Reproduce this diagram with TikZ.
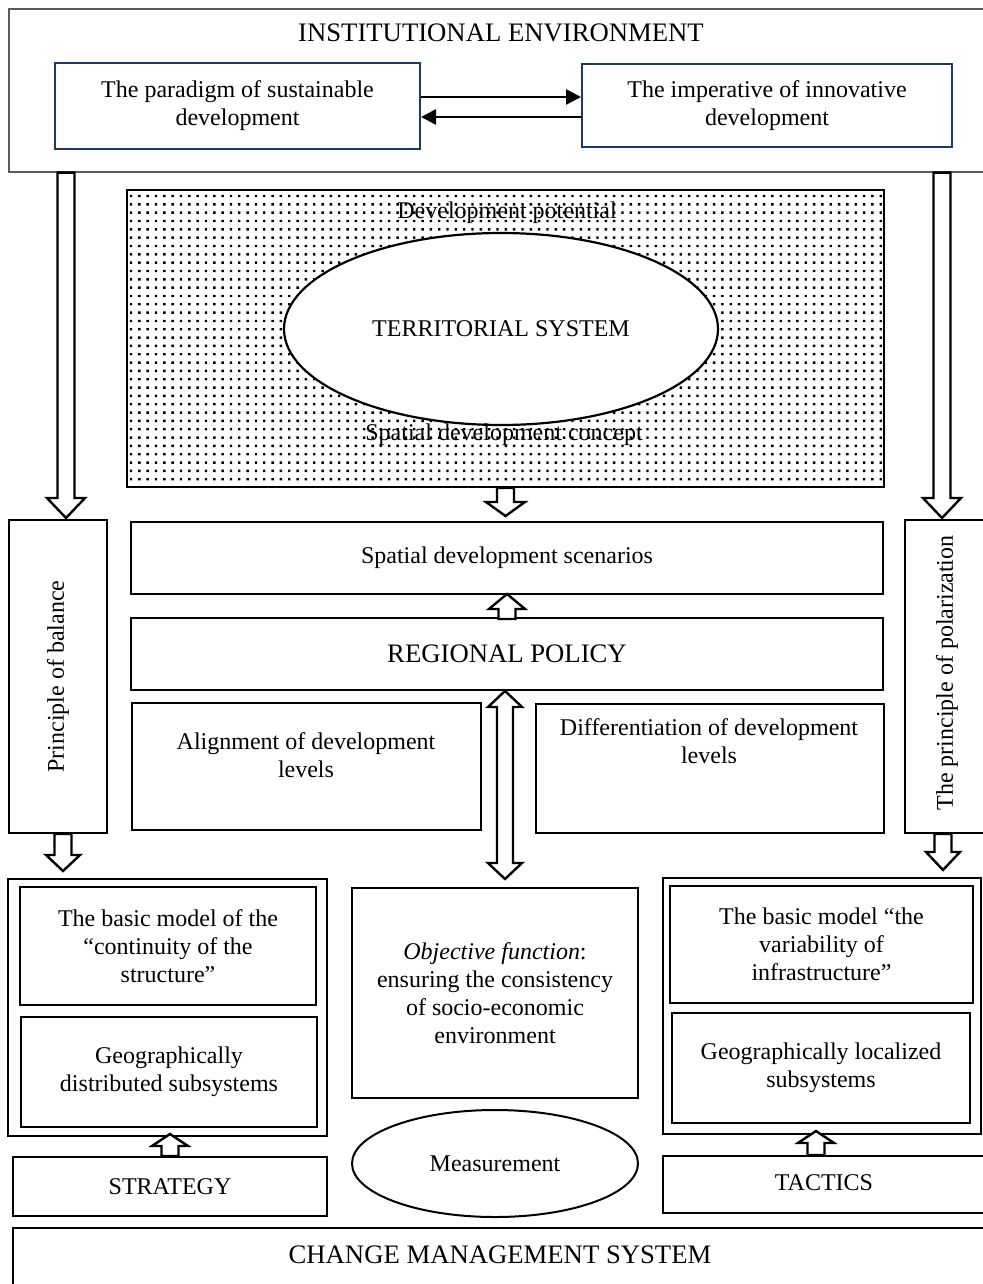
\documentclass[tikz,border=0pt]{standalone}
\usepackage{fontspec}
\setmainfont{Liberation Serif}
\usetikzlibrary{calc,shapes.geometric,arrows.meta}
\definecolor{navy}{RGB}{31,56,100}
\definecolor{framegray}{RGB}{90,90,90}
\tikzset{
  box/.style={draw, line width=2pt, rectangle, inner sep=0pt, align=center,
    font=\fontsize{24}{28}\selectfont},
  txt/.style={align=center, inner sep=0pt, font=\fontsize{24}{28}\selectfont},
  bigtxt/.style={align=center, inner sep=0pt, font=\fontsize{26.7}{31}\selectfont},
  oval/.style={draw, ellipse, line width=2.2pt, fill=white, inner sep=0pt,
    font=\fontsize{24}{28}\selectfont},
  blk/.style={draw, line width=2.4pt, fill=white, line join=miter},
  tarrow/.style={line width=2.6pt, -{Triangle[length=15pt,width=15pt]}}
}
% box node from corners: #1 name, #2 x1, #3 y1, #4 x2, #5 y2, #6 options, #7 text
\newcommand\bx[7]{%
  \node[box, minimum width={(#4-#2)*1pt}, minimum height={(#5-#3)*1pt}, #6]
    (#1) at ({(#2+#4)/2},{(#3+#5)/2}) {#7};}
% #1 start, #2 tip, #3 head half width, #4 head length
\newcommand\blockarrow[4]{%
  \draw[blk] let \p1=#1, \p2=#2, \n1={sign(\y2-\y1)} in
    (\x1-8.5pt,\y1) -- (\x1-8.5pt,{\y2-(\n1)*#4}) -- (\x1-#3,{\y2-(\n1)*#4}) --
    (\x1,\y2) -- (\x1+#3,{\y2-(\n1)*#4}) -- (\x1+8.5pt,{\y2-(\n1)*#4}) --
    (\x1+8.5pt,\y1) -- cycle;}
% #1 upper tip, #2 lower tip, #3 head half width, #4 head length
\newcommand\dblarrow[4]{%
  \draw[blk] let \p1=#1, \p2=#2 in
    (\x1,\y1) -- (\x1+#3,\y1-#4) -- (\x1+8pt,\y1-#4) -- (\x1+8pt,\y2+#4) --
    (\x1+#3,\y2+#4) -- (\x1,\y2) -- (\x1-#3,\y2+#4) -- (\x1-8pt,\y2+#4) --
    (\x1-8pt,\y1-#4) -- (\x1-#3,\y1-#4) -- cycle;}
\begin{document}
\begin{tikzpicture}[x=1pt,y=-1pt]
\useasboundingbox (0,0) rectangle (982,1284);

% ---------- institutional environment ----------
\bx{inst}{9}{9}{995}{172}{draw=framegray, line width=1.4pt}{}
\node[bigtxt] (instT) at (501,33) {INSTITUTIONAL ENVIRONMENT};
\bx{para}{55}{63}{420}{149}{draw=navy}{The paradigm of sustainable\\development}
\bx{imper}{582}{64}{952}{147}{draw=navy}{The imperative of innovative\\development}
\draw[tarrow] ([yshift=9pt]para.east) -- ([yshift=9pt]para.east -| imper.west);
\draw[tarrow] ([yshift=-11pt]para.east -| imper.west) -- ([yshift=-11pt]para.east);

% ---------- dotted territorial area ----------
\bx{dots}{127}{190}{884}{487}{}{}
\fill foreach \i in {0,...,90} {foreach \j in {0,...,34} {(129.8+\i*8.33,194.8+\j*8.33) rectangle ++(2.4,2.4)}};
\node[oval, minimum width=434pt, minimum height=192pt] (terr) at (501,329) {TERRITORIAL SYSTEM};
\node[txt] (potential) at (507,213) {Development potential};
\node[txt] (concept) at (504,435) {Spatial development concept};

% ---------- principles ----------
\bx{bal}{9}{520}{107}{833}{}{}
\node[txt, rotate=90] (balT) at (bal.center) {Principle of balance};
\bx{pol}{905}{520}{995}{833}{}{}
\node[txt, rotate=90] (polT) at (947,673) {The principle of polarization};

% ---------- central column ----------
\bx{scen}{131}{522}{883}{594}{}{Spatial development scenarios}
\bx{reg}{131}{618}{883}{690}{font=\fontsize{26.7}{31}\selectfont}{REGIONAL POLICY}
\bx{align}{132}{703}{481}{830}{}{}
\node[txt] (alignT) at (306,755) {Alignment of development\\levels};
\bx{diff}{536}{704}{884}{833}{}{}
\node[txt] (diffT) at (709,741) {Differentiation of development\\levels};
\bx{obj}{352}{888}{638}{1098}{}{\textit{Objective function}:\\ensuring the consistency\\of socio-economic\\environment}
\node[oval, line width=2pt, minimum width=286pt, minimum height=107pt] (meas) at (495,1163.5) {Measurement};

% ---------- left group ----------
\bx{lgrp}{8}{879}{327}{1136}{}{}
\bx{lm1}{20}{887}{316}{1005}{}{The basic model of the\\“continuity of the\\structure”}
\bx{lm2}{21}{1017}{317}{1127}{}{Geographically\\distributed subsystems}
\bx{strat}{13}{1157}{327}{1216}{}{STRATEGY}

% ---------- right group ----------
\bx{rgrp}{663}{878}{981}{1134}{}{}
\bx{rm1}{670}{886}{973}{1003}{}{The basic model “the\\variability of\\infrastructure”}
\bx{rm2}{672}{1013}{970}{1123}{}{Geographically localized\\subsystems}
\bx{tact}{663}{1156}{995}{1213}{}{}
\node[txt] (tactT) at (824,1183) {TACTICS};

% ---------- change management ----------
\bx{cms}{13}{1228}{995}{1295}{}{}
\node[bigtxt] (cmsT) at (500,1255) {CHANGE MANAGEMENT SYSTEM};

% ---------- helper coordinates for arrow ends ----------
\coordinate (a1) at ([xshift=8pt]bal.north);
\coordinate (a1t) at ([xshift=8pt,yshift=1pt]bal.north);
\coordinate (a2) at ([xshift=-8pt]pol.north);
\coordinate (a2t) at ([xshift=-8pt,yshift=1pt]pol.north);
\coordinate (scenTop) at ([yshift=5pt]scen.north);
\coordinate (scenBot) at ([yshift=1pt]scen.south);
\coordinate (dTop) at ([xshift=-2pt]reg.south);
\coordinate (objTop) at ([yshift=8pt]obj.north);
\coordinate (balBot) at ([xshift=5pt]bal.south);
\coordinate (lgrpTop) at ([yshift=7pt]lgrp.north);
\coordinate (polBot) at ([xshift=-7pt]pol.south);
\coordinate (rgrpTop) at ([yshift=7pt]rgrp.north);
\coordinate (lgrpBot) at ([yshift=3pt]lgrp.south);
\coordinate (tactArr) at ([xshift=-5pt]tact.north -| tactT.north);
\coordinate (rgrpBot) at ([yshift=4pt]rgrp.south);

% ---------- block arrows ----------
\blockarrow{(a1 |- inst.south)}{(a1t)}{19pt}{20pt}
\blockarrow{(a2 |- inst.south)}{(a2t)}{19pt}{20pt}
\blockarrow{(dots.south)}{(dots.south |- scenTop)}{19.5pt}{14pt}
\blockarrow{([yshift=-2pt]reg.north)}{(reg.north |- scenBot)}{18pt}{15pt}
\dblarrow{(dTop)}{(dTop |- objTop)}{17pt}{16pt}
\blockarrow{(balBot)}{(balBot |- lgrpTop)}{17pt}{16pt}
\blockarrow{(polBot)}{(polBot |- rgrpTop)}{17pt}{18pt}
\blockarrow{(strat.north)}{(strat.north |- lgrpBot)}{18pt}{12pt}
\blockarrow{([xshift=-3pt]tactArr)}{([xshift=-3pt]tactArr |- rgrpBot)}{18pt}{12pt}
\end{tikzpicture}
\end{document}
